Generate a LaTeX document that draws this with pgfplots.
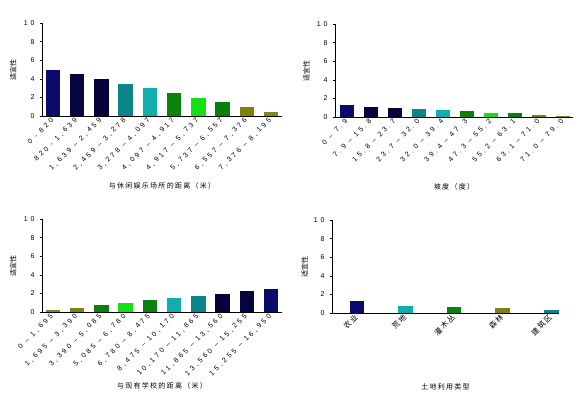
\documentclass[border=0pt]{standalone}
\usepackage{fontspec}
\setmainfont{Liberation Sans}[LetterSpace=40]
\newfontfamily\cjk{Noto Sans CJK SC}[LetterSpace=18]
\newfontfamily\cjkv{Noto Sans CJK SC}
\usepackage{pgfplots}
\pgfplotsset{compat=1.18}

\definecolor{c1}{HTML}{0B0B6B}
\definecolor{c2}{HTML}{06063F}
\definecolor{c3}{HTML}{04043A}
\definecolor{c4}{HTML}{0B8585}
\definecolor{c5}{HTML}{12ADAD}
\definecolor{c6}{HTML}{0B820B}
\definecolor{c7}{HTML}{15E015}
\definecolor{c8}{HTML}{0A7F0A}
\definecolor{c9}{HTML}{7F7F12}
\definecolor{c10}{HTML}{85851A}

\pgfplotsset{
 sbar/.style={
  scale only axis, width=240pt, height=93pt,
  anchor=south west,
  ymin=0, ymax=10, ytick={0,2,4,6,8,10},
  axis lines=left, axis line style={-, line width=0.9pt},
  ybar, bar width=14.5pt,
  xtick={0,...,9},
  xtick style={draw=none},
  ytick style={line width=0.6pt, black},
  tick align=outside, major tick length=2.5pt,
  tick label style={font=\fontsize{7}{8}\selectfont},
  y tick label style={xshift=-1.5pt},
  /pgf/number format/assume math mode=true,
  x tick label style={rotate=45, anchor=east, inner sep=1pt},
  ylabel={\cjkv 适宜性},
  ylabel style={at={(axis description cs:-0.12,0.5)}, anchor=center, font=\fontsize{7}{8}\selectfont},
  xlabel style={at={(axis description cs:0.5,0)}, yshift=-70pt, anchor=center, font=\fontsize{7}{8}\selectfont},
 },
 b/.style={fill=#1, draw=none, bar shift=0pt},
}

\begin{document}
\begin{tikzpicture}
\useasboundingbox (0,0) rectangle (580pt,392pt);

% top left
\begin{axis}[sbar, at={(42pt,276pt)}, xmin=-0.45, xmax=9.45,
  xticklabels={0 - 820, 820 - 1{,}639, 1{,}639 – 2{,}459, 2{,}459 – 3{,}278, 3{,}278 – 4{,}097, 4{,}097 – 4{,}917, 4{,}917 – 5{,}737, 5{,}737 – 6{,}557, 6{,}557 – 7{,}376, 7{,}376 – 8{,}195},
  xlabel={\cjk 与休闲娱乐场所的距离（米）}]
\addplot[b=c1] coordinates {(0,5.0)};
\addplot[b=c2] coordinates {(1,4.5)};
\addplot[b=c3] coordinates {(2,3.95)};
\addplot[b=c4] coordinates {(3,3.42)};
\addplot[b=c5] coordinates {(4,3.0)};
\addplot[b=c6] coordinates {(5,2.45)};
\addplot[b=c7] coordinates {(6,1.92)};
\addplot[b=c8] coordinates {(7,1.5)};
\addplot[b=c9] coordinates {(8,0.97)};
\addplot[b=c10] coordinates {(9,0.45)};
\end{axis}

% top right
\begin{axis}[sbar, at={(335pt,275pt)}, width=238pt, xmin=-0.5, xmax=9.42,
  xticklabels={0 – 7.9, 7.9 – 15.8, 15.8 – 23.7, 23.7 – 32.0, 32.0 – 39.4, 39.4 – 47.3, 47.3 – 55.2, 55.2 – 63.1, 63.1 – 71.0, 71.0 – 79.0},
  xlabel={\cjk 坡度（度）}]
\addplot[b=c1] coordinates {(0,1.29)};
\addplot[b=c2] coordinates {(1,1.07)};
\addplot[b=c3] coordinates {(2,0.97)};
\addplot[b=c4] coordinates {(3,0.86)};
\addplot[b=c5] coordinates {(4,0.75)};
\addplot[b=c6] coordinates {(5,0.64)};
\addplot[b=c7] coordinates {(6,0.43)};
\addplot[b=c8] coordinates {(7,0.43)};
\addplot[b=c9] coordinates {(8,0.21)};
\addplot[b=c10] coordinates {(9,0.1)};
\end{axis}

% bottom left
\begin{axis}[sbar, at={(42pt,80pt)}, xmin=-0.45, xmax=9.45,
  xticklabels={0 – 1{,}695, 1{,}695 – 3{,}390, 3{,}390 – 5{,}085, 5{,}085 – 6{,}780, 6{,}780 – 8{,}475, 8{,}475 – 10{,}170, 10{,}170 – 11{,}865, 11{,}865 – 13{,}560, 13{,}560 – 15{,}255, 15{,}255 – 16{,}950},
  xlabel={\cjk 与现有学校的距离（米）}, xlabel style={yshift=-4pt}]
\addplot[b=c10] coordinates {(0,0.21)};
\addplot[b=c9] coordinates {(1,0.43)};
\addplot[b=c8] coordinates {(2,0.75)};
\addplot[b=c7] coordinates {(3,0.97)};
\addplot[b=c6] coordinates {(4,1.29)};
\addplot[b=c5] coordinates {(5,1.5)};
\addplot[b=c4] coordinates {(6,1.72)};
\addplot[b=c3] coordinates {(7,1.94)};
\addplot[b=c2] coordinates {(8,2.26)};
\addplot[b=c1] coordinates {(9,2.47)};
\end{axis}

% bottom right
\begin{axis}[sbar, at={(332pt,79pt)}, width=227pt, xmin=-0.52, xmax=4.16,
  xtick={0,...,4},
  xticklabels={农业, 荒地, 灌木丛, 森林, 建筑区},
  x tick label style={font=\cjk\fontsize{7.5}{8}\selectfont},
  xlabel={\cjk 土地利用类型}, xlabel style={yshift=-4pt}]
\addplot[b=c1] coordinates {(0,1.25)};
\addplot[b=c5] coordinates {(1,0.71)};
\addplot[b=c6] coordinates {(2,0.61)};
\addplot[b=c9] coordinates {(3,0.5)};
\addplot[b=c4] coordinates {(4,0.29)};
\end{axis}
\end{tikzpicture}
\end{document}
